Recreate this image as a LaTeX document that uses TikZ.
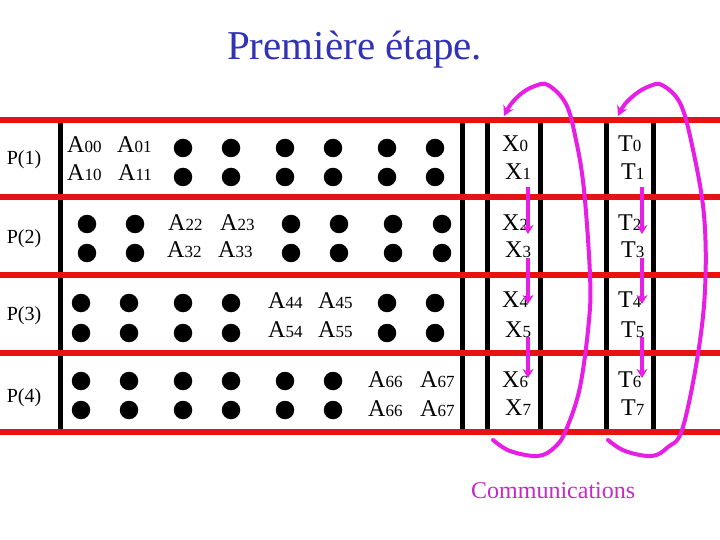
\documentclass[tikz,border=0pt]{standalone}
\usepackage{fontspec}
\setmainfont{Liberation Serif}
\usetikzlibrary{arrows.meta}
\definecolor{redline}{RGB}{232,18,18}
\definecolor{magline}{RGB}{230,30,230}
\definecolor{titleblue}{RGB}{50,50,180}
\definecolor{commcol}{RGB}{200,40,200}
\newcommand\Mlab[2]{#1{\fontsize{17}{17}\selectfont #2}}
\begin{document}
\begin{tikzpicture}[x=1pt,y=-1pt,
  gridline/.style={line width=5pt, black},
  sepline/.style={line width=6pt, redline},
  dotnode/.style={circle, fill=black, inner sep=0pt, minimum size=18.5pt},
  lab/.style={font=\fontsize{24}{24}\selectfont, inner sep=0pt, anchor=base west},
  plab/.style={font=\fontsize{20}{20}\selectfont, inner sep=0pt},
  comm/.style={magline, line width=4pt, line cap=round, -{Stealth[length=10pt,width=11pt]}},
  shortarr/.style={magline, line width=4pt, -{Stealth[length=9pt,width=11pt]}}]
\useasboundingbox (0,0) rectangle (720,540);
\fill[white] (0,0) rectangle (720,540);

% title
\node[font=\fontsize{41}{41}\selectfont, text=titleblue, inner sep=0pt, anchor=base west] (title) at (227,60) {Première étape.};

% vertical black lines
\foreach \x in {60,462,487,540,606,653}
  \draw[gridline] (\x,122) -- (\x,431);

% red separators
\foreach \y in {120,197,275,353,432}
  \draw[sepline] (0,\y) -- (720,\y);

% processor labels
\node[plab] (p1) at (24,160) {P(1)};
\node[plab] (p2) at (24,239) {P(2)};
\node[plab] (p3) at (24,316) {P(3)};
\node[plab] (p4) at (24,398) {P(4)};

% matrix blocks
\node[lab] (a00) at (67,153) {\Mlab{A}{00}};
\node[lab] (a01) at (117,153) {\Mlab{A}{01}};
\node[lab] (a10) at (67,181) {\Mlab{A}{10}};
\node[lab] (a11) at (118,181) {\Mlab{A}{11}};

\node[lab] (a22) at (168,230) {\Mlab{A}{22}};
\node[lab] (a23) at (220,230) {\Mlab{A}{23}};
\node[lab] (a32) at (167,258) {\Mlab{A}{32}};
\node[lab] (a33) at (218,258) {\Mlab{A}{33}};

\node[lab] (a44) at (268,308) {\Mlab{A}{44}};
\node[lab] (a45) at (318,308) {\Mlab{A}{45}};
\node[lab] (a54) at (268,337) {\Mlab{A}{54}};
\node[lab] (a55) at (318,337) {\Mlab{A}{55}};

\node[lab] (a66) at (368,387) {\Mlab{A}{66}};
\node[lab] (a67) at (420,387) {\Mlab{A}{67}};
\node[lab] (a66b) at (368,416) {\Mlab{A}{66}};
\node[lab] (a67b) at (420,416) {\Mlab{A}{67}};

% dots
\foreach \x [count=\i] in {183,231,285,333,387,435} {
  \node[dotnode] (da\i) at (\x,148) {};
  \node[dotnode] (db\i) at (\x,177) {};}
\foreach \x [count=\i] in {87,135,291,339,393,442} {
  \node[dotnode] (dc\i) at (\x,224) {};
  \node[dotnode] (dd\i) at (\x,253) {};}
\foreach \x [count=\i] in {81,129,183,231,387,435} {
  \node[dotnode] (de\i) at (\x,303) {};
  \node[dotnode] (df\i) at (\x,333) {};}
\foreach \x [count=\i] in {81,129,183,231,285,333} {
  \node[dotnode] (dg\i) at (\x,381) {};
  \node[dotnode] (dh\i) at (\x,410) {};}

% X and T columns
\foreach \k/\y/\dx in {0/152/0,1/180/3,2/230/0,3/258/3,4/307/0,5/337/3,6/387/0,7/415/3} {
  \node[lab] (x\k) at (502+\dx,\y) {\Mlab{X}{\k}};
  \node[lab] (t\k) at (618+\dx,\y) {\Mlab{T}{\k}};}

% short arrows
\foreach \n/\ya/\yb in {1/187/234,2/258/304,3/337/378} {
  \coordinate (xs\n) at (528,\ya); \coordinate (xe\n) at (528,\yb);
  \coordinate (ts\n) at (642,\ya); \coordinate (te\n) at (642,\yb);
  \draw[shortarr] (xs\n) -- (xe\n);
  \draw[shortarr] (ts\n) -- (te\n);}

% big return curves
\draw[comm] plot[smooth, tension=0.6] coordinates {(493,440) (510,451) (538,456) (555,447) (566,430) (580,387) (589,320) (590,275) (584,190) (576,140) (566,104) (548,85) (535,86) (522,93) (511,104) (504,116)};
\draw[comm] plot[smooth, tension=0.6] coordinates {(608,440) (625,451) (652,456) (668,447) (682,430) (697,360) (705,290) (704,215) (692,145) (680,103) (662,85) (650,86) (637,93) (625,104) (618,116)};

% caption
\node[font=\fontsize{24}{24}\selectfont, text=commcol, inner sep=0pt, anchor=base west] (cap) at (471,498) {Communications};
\end{tikzpicture}
\end{document}
